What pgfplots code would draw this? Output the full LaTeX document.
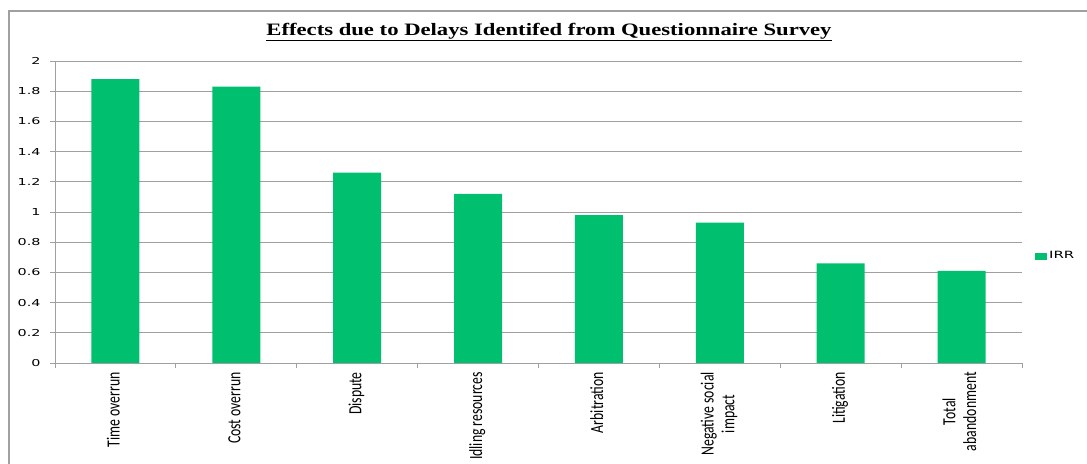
\documentclass[border=0pt]{standalone}
\usepackage{pgfplots}
\pgfplotsset{compat=1.18}
\usepackage{graphicx}
\usepackage{fontspec}
\setmainfont{Carlito}
\newfontfamily\tickfont[FakeStretch=1.5]{DejaVu Sans}
\newfontfamily\titlefont[FakeStretch=1.3]{Liberation Serif}
\definecolor{irr}{RGB}{0,191,111}
\definecolor{gridc}{RGB}{160,160,160}
\newcommand{\lbl}[1]{\scalebox{1}[1.35]{\fontsize{13.8}{15.5}\selectfont\begin{tabular}{@{}c@{}}#1\end{tabular}}}
\begin{document}
\begin{tikzpicture}[x=1bp,y=1bp]
\path[use as bounding box] (0,0) rectangle (1087,464);
\draw[gridc, line width=1.2bp] (9,0) -- (9,453) -- (1087,453);
\node[font=\titlefont\bfseries\fontsize{17.5}{20}\selectfont] at (549,432) {\underline{Effects due to Delays Identifed from Questionnaire Survey}};
\begin{axis}[at={(55bp,101bp)}, anchor=south west, scale only axis,
  width=967bp, height=302bp,
  xmin=-0.5, xmax=7.5, ymin=0, ymax=2,
  ytick={0,0.2,0.4,0.6,0.8,1,1.2,1.4,1.6,1.8,2},
  yticklabels={0,0.2,0.4,0.6,0.8,1,1.2,1.4,1.6,1.8,2},
  yticklabel style={font=\tickfont\fontsize{9.6}{11}\selectfont, xshift=-6bp},
  ymajorgrids, grid style={gridc, line width=0.9bp},
  axis x line*=bottom, axis y line*=left,
  axis line style={-, draw=gridc, line width=0.9bp},
  tick align=outside, major tick length=5bp,
  tick style={draw=gridc, line width=0.9bp},
  xtick={-0.5,0.5,...,7.5}, xticklabels={},
  extra x ticks={0,1,2,3,4,5,6,7},
  extra x tick labels={\lbl{Time overrun}, \lbl{Cost overrun}, \lbl{Dispute}, \lbl{Idling resources}, \lbl{Arbitration}, \lbl{Negative social\\impact}, \lbl{Litigation}, \lbl{Total\\abandonment}},
  extra x tick style={major tick length=0pt, grid=none,
     tick label style={yshift=-8bp, rotate=90, anchor=east, inner sep=1bp}},
  legend style={at={(1.0103,0.354)}, anchor=west, draw=none, fill=none,
     font=\tickfont\fontsize{10}{12}\selectfont},
]
\addplot[ybar, bar width=48bp, fill=irr, draw=none,
  legend image code/.code={\fill[irr] (0bp,-3.5bp) rectangle (12bp,3.5bp);}]
  coordinates {(0,1.88) (1,1.83) (2,1.26) (3,1.12) (4,0.98) (5,0.93) (6,0.66) (7,0.61)};
\addlegendentry{IRR}
\end{axis}
\end{tikzpicture}
\end{document}
